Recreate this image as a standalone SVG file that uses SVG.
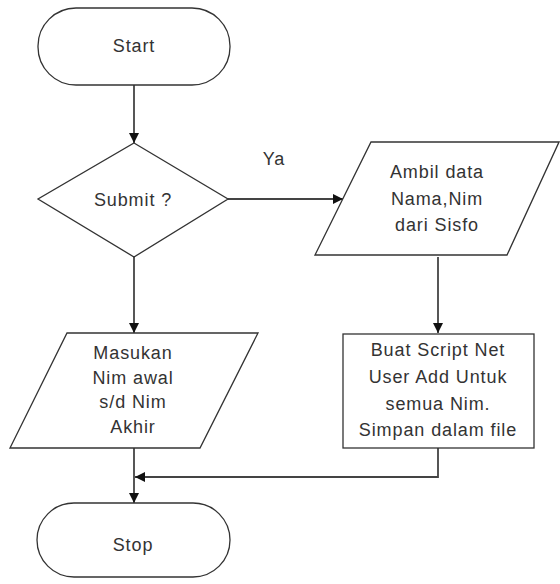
<svg xmlns="http://www.w3.org/2000/svg" width="560" height="584" viewBox="0 0 560 584">
  <style>
    .shape { fill: #ffffff; stroke: #333333; stroke-width: 1.3; }
    .lbl { font-family: "Liberation Sans", Arial, sans-serif; font-size: 18px; letter-spacing: 0.9px; fill: #333333; text-anchor: middle; dominant-baseline: central; }
    .conn { fill: none; stroke: #444444; stroke-width: 1.8; }
  </style>
  <defs>
    <marker id="arrow" viewBox="0 0 10 10" refX="10" refY="5" markerWidth="10" markerHeight="10" markerUnits="userSpaceOnUse" orient="auto">
      <path d="M0,0 L10,5 L0,10 Z" fill="#111111"/>
    </marker>
  </defs>
  <rect width="560" height="584" fill="#ffffff"/>

  <g id="connectors">
    <line class="conn" x1="134" y1="85" x2="134" y2="143" marker-end="url(#arrow)"/>
    <line class="conn" x1="228" y1="199" x2="343" y2="199" marker-end="url(#arrow)"/>
    <line class="conn" x1="134" y1="257" x2="134" y2="333" marker-end="url(#arrow)"/>
    <line class="conn" x1="438" y1="257" x2="438" y2="333" marker-end="url(#arrow)"/>
    <line class="conn" x1="134" y1="448" x2="134" y2="503" marker-end="url(#arrow)"/>
    <polyline class="conn" points="438,448 438,477 135,477" marker-end="url(#arrow)"/>
    <text class="lbl" x="274" y="159">Ya</text>
  </g>

  <g id="start">
    <rect class="shape" x="38" y="8" width="192" height="77" rx="38" ry="38"/>
    <text class="lbl" x="134" y="46">Start</text>
  </g>

  <g id="submit">
    <polygon class="shape" points="134,143 228,199 134,257 38,199"/>
    <text class="lbl" x="133" y="200">Submit ?</text>
  </g>

  <g id="ambil-data">
    <polygon class="shape" points="371,142 559,142 507,255 315,255"/>
    <text class="lbl" x="437" y="172">Ambil data</text>
    <text class="lbl" x="437" y="199">Nama,Nim</text>
    <text class="lbl" x="437" y="225">dari Sisfo</text>
  </g>

  <g id="buat-script">
    <rect class="shape" x="343" y="334" width="191" height="114"/>
    <text class="lbl" x="438" y="350">Buat Script Net</text>
    <text class="lbl" x="438" y="377">User Add Untuk</text>
    <text class="lbl" x="438" y="404">semua Nim.</text>
    <text class="lbl" x="438" y="430">Simpan dalam file</text>
  </g>

  <g id="masukan">
    <polygon class="shape" points="67,333 258,333 200,448 10,448"/>
    <text class="lbl" x="133" y="353">Masukan</text>
    <text class="lbl" x="133" y="378">Nim awal</text>
    <text class="lbl" x="133" y="402">s/d Nim</text>
    <text class="lbl" x="133" y="427">Akhir</text>
  </g>

  <g id="stop">
    <rect class="shape" x="37" y="503" width="193" height="74" rx="37" ry="37"/>
    <text class="lbl" x="133" y="545">Stop</text>
  </g>
</svg>
